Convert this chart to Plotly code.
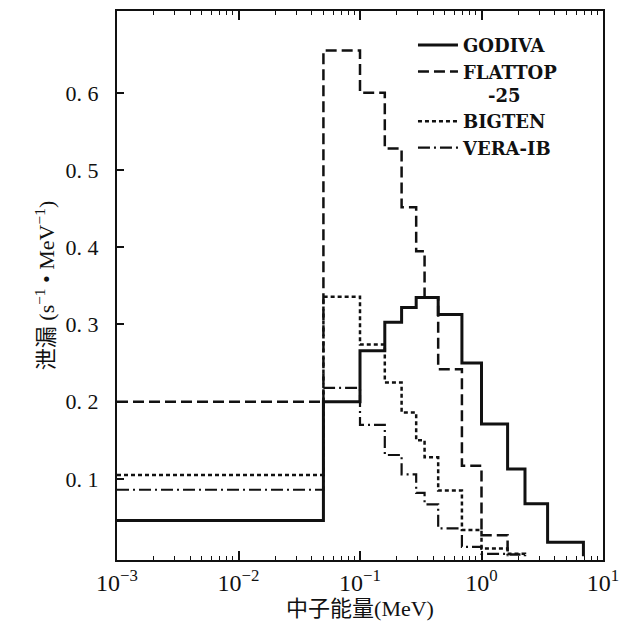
import plotly.graph_objects as go

# Energy group boundaries (MeV)
energy_edges = [0.001, 0.05, 0.1, 0.16, 0.22, 0.29, 0.34, 0.44, 0.69, 1.0, 1.64, 2.28, 3.5, 6.9]

# Leakage per group (s^-1 MeV^-1)
godiva = [0.046, 0.200, 0.266, 0.303, 0.322, 0.335, 0.335, 0.313, 0.250, 0.171, 0.113, 0.068, 0.018]
flattop = [0.200, 0.655, 0.600, 0.528, 0.452, 0.395, 0.335, 0.242, 0.117, 0.027, 0.002]
bigten = [0.105, 0.336, 0.274, 0.225, 0.186, 0.150, 0.128, 0.085, 0.034, 0.010, 0.003]
vera = [0.086, 0.218, 0.170, 0.131, 0.106, 0.082, 0.067, 0.036, 0.012, 0.003]

series_names = ["GODIVA", "FLATTOP<br>\u00a0\u00a0\u00a0\u00a0-25", "BIGTEN", "VERA-IB"]

x_tickvals = [1e-3, 1e-2, 1e-1, 1, 10]
x_ticktext = ["10<sup>−3</sup>", "10<sup>−2</sup>", "10<sup>−1</sup>", "10<sup>0</sup>", "10<sup>1</sup>"]
y_tickvals = [0.1, 0.2, 0.3, 0.4, 0.5, 0.6]
y_ticktext = ["0. 1", "0. 2", "0. 3", "0. 4", "0. 5", "0. 6"]

INK = "#111111"
SERIF = "Liberation Serif, DejaVu Serif, serif"
CJK = "Liberation Serif, Noto Sans CJK SC, serif"


def step_xy(values):
    n = len(values)
    return energy_edges[:n + 1], list(values) + [0]


styles = [
    dict(width=3, dash="solid"),
    dict(width=2.5, dash="11px,5px"),
    dict(width=2.5, dash="4px,3px"),
    dict(width=2.2, dash="12px,4px,2px,4px"),
]

fig = go.Figure()
for name, vals, st in zip(series_names, [godiva, flattop, bigten, vera], styles):
    xs, ys = step_xy(vals)
    fig.add_trace(go.Scatter(
        x=xs, y=ys, mode="lines", name=name,
        line=dict(color=INK, width=st["width"], dash=st["dash"], shape="hv"),
    ))

minor_vals = [m * 10 ** e for e in range(-3, 1) for m in range(2, 10)]

# The page body adds an 8 px margin, so the figure is sized to fit the window.
fig.update_layout(
    width=633, height=628,
    margin=dict(l=109, r=38, t=1, b=76),
    plot_bgcolor="white", paper_bgcolor="white",
    showlegend=True,
    legend=dict(
        x=0.609, y=0.971, xanchor="left", yanchor="top",
        bgcolor="rgba(0,0,0,0)", borderwidth=0,
        font=dict(family="DejaVu Serif, serif", size=18, color=INK, weight="bold"),
        itemwidth=40, valign="top", tracegroupgap=0,
    ),
    xaxis=dict(
        type="log", range=[-3, 1],
        tickvals=x_tickvals, ticktext=x_ticktext,
        ticks="inside", ticklen=9, tickwidth=1.5, tickcolor=INK,
        showline=True, linewidth=2, linecolor=INK, mirror="allticks",
        showgrid=False, zeroline=False,
        minor=dict(tickvals=minor_vals, ticks="inside", ticklen=4, tickwidth=1, tickcolor=INK, showgrid=False),
        tickfont=dict(family=SERIF, size=24, color=INK),
        title=dict(text="中子能量(MeV)", font=dict(family=CJK, size=22, color=INK), standoff=2),
    ),
    yaxis=dict(
        range=[-0.005, 0.706],
        tickvals=y_tickvals, ticktext=y_ticktext,
        ticks="inside", ticklen=7, tickwidth=1.5, tickcolor=INK,
        showline=True, linewidth=2, linecolor=INK, mirror=True,
        showgrid=False, zeroline=False,
        tickfont=dict(family=SERIF, size=22, color=INK),
        ticklabelstandoff=12,
        title=dict(text="泄漏 (s<sup>−1</sup> • MeV<sup>−1</sup>)", font=dict(family=CJK, size=22, color=INK), standoff=5),
    ),
)

fig.write_html("out.html")
